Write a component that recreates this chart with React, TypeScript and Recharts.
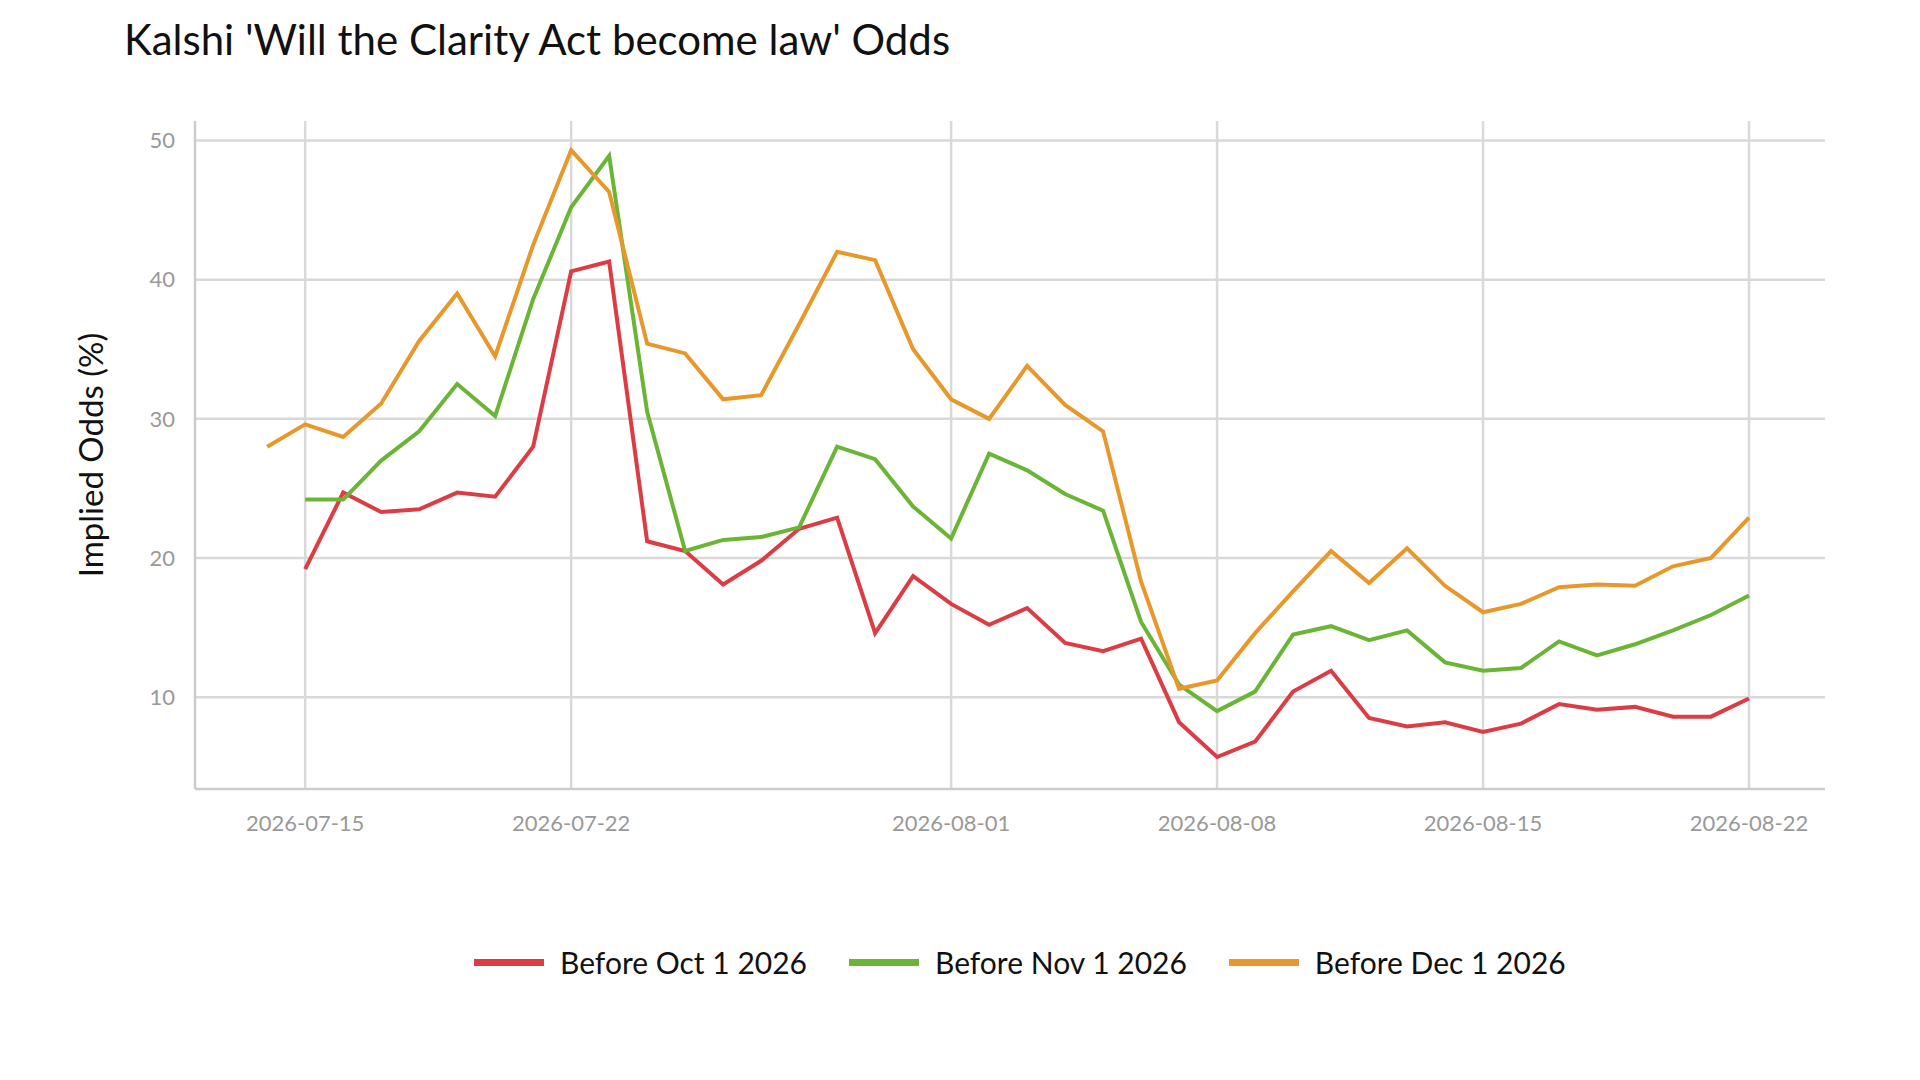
import { LineChart, Line, XAxis, YAxis, CartesianGrid } from "recharts"

const dates = [
  "2026-07-14", "2026-07-15", "2026-07-16", "2026-07-17", "2026-07-18", "2026-07-19", "2026-07-20",
  "2026-07-21", "2026-07-22", "2026-07-23", "2026-07-24", "2026-07-25", "2026-07-26", "2026-07-27",
  "2026-07-28", "2026-07-29", "2026-07-30", "2026-07-31", "2026-08-01", "2026-08-02", "2026-08-03",
  "2026-08-04", "2026-08-05", "2026-08-06", "2026-08-07", "2026-08-08", "2026-08-09", "2026-08-10",
  "2026-08-11", "2026-08-12", "2026-08-13", "2026-08-14", "2026-08-15", "2026-08-16", "2026-08-17",
  "2026-08-18", "2026-08-19", "2026-08-20", "2026-08-21", "2026-08-22",
]

const beforeOct = [
  null, 19.2, 24.7, 23.3, 23.5, 24.7, 24.4, 28.0, 40.6, 41.3, 21.2, 20.5, 18.1, 19.8, 22.1, 22.9,
  14.6, 18.7, 16.7, 15.2, 16.4, 13.9, 13.3, 14.2, 8.2, 5.7, 6.8, 10.4, 11.9, 8.5, 7.9, 8.2, 7.5,
  8.1, 9.5, 9.1, 9.3, 8.6, 8.6, 9.9,
]

const beforeNov = [
  null, 24.2, 24.2, 27.0, 29.1, 32.5, 30.2, 38.6, 45.2, 48.9, 30.5, 20.5, 21.3, 21.5, 22.2, 28.0,
  27.1, 23.7, 21.4, 27.5, 26.3, 24.6, 23.4, 15.4, 10.9, 9.0, 10.4, 14.5, 15.1, 14.1, 14.8, 12.5,
  11.9, 12.1, 14.0, 13.0, 13.8, 14.8, 15.9, 17.3,
]

const beforeDec = [
  28.0, 29.6, 28.7, 31.1, 35.6, 39.0, 34.5, 42.5, 49.3, 46.3, 35.4, 34.7, 31.4, 31.7, 36.8, 42.0,
  41.4, 35.0, 31.4, 30.0, 33.8, 31.0, 29.1, 18.3, 10.6, 11.2, 14.6, 17.6, 20.5, 18.2, 20.7, 18.0,
  16.1, 16.7, 17.9, 18.1, 18.0, 19.4, 20.0, 22.9,
]

const xTicks = ["2026-07-15", "2026-07-22", "2026-08-01", "2026-08-08", "2026-08-15", "2026-08-22"]
const yTicks = [10, 20, 30, 40, 50]

const series = [
  { key: "oct", name: "Before Oct 1 2026", color: "#dc3d45", values: beforeOct },
  { key: "nov", name: "Before Nov 1 2026", color: "#6ab535", values: beforeNov },
  { key: "dec", name: "Before Dec 1 2026", color: "#e8982a", values: beforeDec },
]

const data = dates.map((d, i) => ({
  idx: i,
  date: d,
  oct: beforeOct[i],
  nov: beforeNov[i],
  dec: beforeDec[i],
}))

const font = "Lato, 'Open Sans', sans-serif"

export default function App() {
  return (
    <div style={{ position: "absolute", left: 0, top: 0, width: 1920, height: 1080, background: "#fff", fontFamily: font }}>
      <div style={{ position: "absolute", left: 124, top: 14, fontSize: 42, color: "#111" }}>
        Kalshi 'Will the Clarity Act become law' Odds
      </div>
      <div
        style={{
          position: "absolute", left: 90, top: 455, fontSize: 33, color: "#111",
          transform: "translate(-50%, -50%) rotate(-90deg)", whiteSpace: "nowrap",
        }}
      >
        Implied Odds (%)
      </div>
      <LineChart width={1920} height={1080} data={data} margin={{ top: 121, right: 95, bottom: 231, left: 115 }}>
        <CartesianGrid stroke="#d9d9d9" strokeWidth={2.5} verticalValues={xTicks.map((t) => dates.indexOf(t))} horizontalValues={yTicks} />
        <XAxis
          type="number"
          dataKey="idx"
          domain={[-1.9, 41]}
          ticks={xTicks.map((t) => dates.indexOf(t))}
          tickFormatter={(v) => dates[v]}
          height={60}
          stroke="#cccccc"
          strokeWidth={2.5}
          tickLine={false}
          tick={{ fill: "#999", fontSize: 22, fontFamily: font }}
          tickMargin={20}
          allowDataOverflow
        />
        <YAxis
          type="number"
          domain={[3.4, 51.4]}
          ticks={yTicks}
          width={80}
          stroke="#cccccc"
          strokeWidth={2.5}
          tickLine={false}
          tick={{ fill: "#999", fontSize: 22, fontFamily: font }}
          tickMargin={14}
          allowDataOverflow
        />
        {series.map((s) => (
          <Line
            key={s.key}
            type="linear"
            dataKey={s.key}
            stroke={s.color}
            strokeWidth={4}
            dot={false}
            connectNulls={false}
            isAnimationActive={false}
          />
        ))}
      </LineChart>
      <div style={{ position: "absolute", left: 474, top: 944, display: "flex", gap: 42, fontSize: 30, color: "#111" }}>
        {series.map((s) => (
          <div key={s.key} style={{ display: "flex", alignItems: "center", gap: 16 }}>
            <div style={{ width: 70, height: 7, background: s.color }} />
            <span>{s.name}</span>
          </div>
        ))}
      </div>
    </div>
  )
}
